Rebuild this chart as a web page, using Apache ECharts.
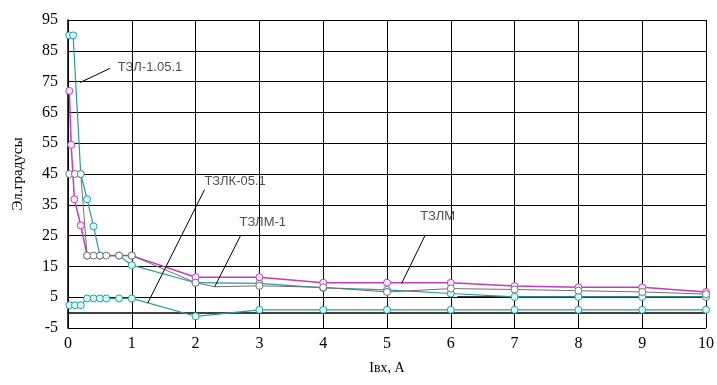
<!DOCTYPE html>
<html>
<head>
<meta charset="utf-8">
<script src="https://cdn.jsdelivr.net/npm/echarts@6/dist/echarts.min.js"></script>
<style>
  html, body { margin: 0; padding: 0; background: #fff; }
  #chart { width: 717px; height: 385px; }
</style>
</head>
<body>
<div id="chart"></div>
<script>
  // данные (Iвх, А ; эл. градусы)
  var tzl1051 = [[0.02, 90], [0.08, 90], [0.2, 45], [0.3, 36.8], [0.4, 28], [0.5, 18.5], [0.8, 18.5],
    [1, 15.4], [2, 9.7], [3, 9.5], [4, 8], [5, 7.4], [6, 6.2], [7, 5.1], [8, 5.1], [9, 5.1], [10, 5.1]];
  var tzlm = [[0.02, 72], [0.05, 54.5], [0.1, 36.8], [0.2, 28.3], [0.3, 18.5], [1, 18.5], [2, 11.5],
    [3, 11.5], [4, 9.7], [5, 9.7], [6, 9.7], [7, 8.6], [8, 8.2], [9, 8.2], [10, 6.7]];
  var tzlm1 = [[0.02, 45], [0.11, 45], [0.2, 45], [0.3, 18.5], [0.4, 18.5], [0.5, 18.5], [0.6, 18.5],
    [0.8, 18.5], [1, 18.5], [2, 9.7], [2.3, 8.4], [3, 8.7], [4, 8.2], [5, 6.7], [6, 7.8], [7, 7.5],
    [8, 7.1], [9, 6.7], [10, 6]];
  var tzlm1Bends = [2.3]; // изломы линии без маркера
  var tzlk051 = [[0.02, 2.4], [0.11, 2.4], [0.2, 2.4], [0.3, 4.6], [0.4, 4.6], [0.5, 4.6], [0.6, 4.6],
    [0.8, 4.6], [1, 4.6], [2, -1.2], [3, 0.9], [4, 0.9], [5, 0.9], [6, 0.9], [7, 0.9], [8, 0.9],
    [9, 0.9], [10, 0.9]];
  var darkPart = [[6.1, 5.1], [10, 5.1]];

  var xTicks = [0, 1, 2, 3, 4, 5, 6, 7, 8, 9, 10];
  var yTicks = [-5, 5, 15, 25, 35, 45, 55, 65, 75, 85, 95];

  // подписи кривых и выноски
  var labelNames = ['ТЗЛ-1.05.1', 'ТЗЛК-05.1', 'ТЗЛМ-1', 'ТЗЛМ'];
  var labelPos = [[0.78, 79.6], [2.14, 42.5], [2.69, 29.2], [5.52, 31.2]];
  var leaders = [
    [[0.66, 79.3], [0.19, 74.7]],
    [[2.14, 39.9], [1.25, 3.1]],
    [[2.71, 25.2], [2.3, 8.4]],
    [[5.6, 25.2], [5.23, 9.5]]
  ];

  var chart = echarts.init(document.getElementById('chart'));

  function curve(name, data, color, fill, width) {
    return {
      name: name,
      type: 'line',
      data: data,
      symbol: 'circle',
      symbolSize: 7,
      lineStyle: { color: color, width: width },
      itemStyle: { color: fill, borderColor: color, borderWidth: 1 },
      z: 3
    };
  }

  var tzlm1Items = tzlm1.map(function (p) {
    if (tzlm1Bends.indexOf(p[0]) >= 0) return { value: p, symbol: 'none' };
    return p;
  });

  var series = [
    curve('ТЗЛК-05.1', tzlk051, '#2a9a9a', '#d8ffff', 1.2),
    curve('ТЗЛ-1.05.1', tzl1051, '#2a9a9a', '#d8ffff', 1.2),
    curve('ТЗЛМ', tzlm, '#c03cc0', '#ffe8ff', 1.5),
    curve('ТЗЛМ-1', tzlm1Items, '#707070', '#ffffff', 1),
    {
      type: 'line',
      data: darkPart,
      symbol: 'none',
      lineStyle: { color: '#000', width: 1.5 },
      z: 2
    }
  ];

  // выноски — тонкие черные линии
  leaders.forEach(function (seg) {
    series.push({
      type: 'line',
      data: seg,
      symbol: 'none',
      lineStyle: { color: '#000', width: 1 },
      z: 4
    });
  });

  series.push({
    type: 'scatter',
    symbolSize: 0,
    data: labelPos.map(function (p, i) { return { name: labelNames[i], value: p }; }),
    label: {
      show: true,
      position: 'right',
      distance: 0,
      formatter: '{b}',
      fontFamily: 'Liberation Sans, Arial, sans-serif',
      fontSize: 13,
      color: '#222'
    },
    z: 5
  });

  var option = {
    animation: false,
    grid: { left: 68, right: 9, top: 20, bottom: 57 },
    xAxis: {
      type: 'value',
      min: xTicks[0],
      max: xTicks[xTicks.length - 1],
      interval: 1,
      name: 'Iвх, А',
      nameLocation: 'middle',
      nameGap: 33,
      nameTextStyle: { fontFamily: 'Liberation Serif, Times New Roman, serif', fontSize: 14, color: '#000' },
      axisLine: { lineStyle: { color: '#000', width: 1.5 } },
      axisTick: { show: false },
      axisLabel: { fontFamily: 'Liberation Serif, Times New Roman, serif', fontSize: 16, color: '#000', margin: 8 },
      splitLine: { show: true, lineStyle: { color: '#000', width: 1 } }
    },
    yAxis: {
      type: 'value',
      min: yTicks[0],
      max: yTicks[yTicks.length - 1],
      interval: 10,
      name: 'Эл.градусы',
      nameLocation: 'middle',
      nameGap: 42,
      nameTextStyle: { fontFamily: 'Liberation Serif, Times New Roman, serif', fontSize: 15, color: '#000' },
      axisLine: { show: true, lineStyle: { color: '#000', width: 1.5 } },
      axisTick: { show: false },
      axisLabel: { fontFamily: 'Liberation Serif, Times New Roman, serif', fontSize: 16, color: '#000', margin: 10 },
      splitLine: { show: true, lineStyle: { color: '#000', width: 1 } }
    },
    series: series
  };

  chart.setOption(option, true);
</script>
</body>
</html>
